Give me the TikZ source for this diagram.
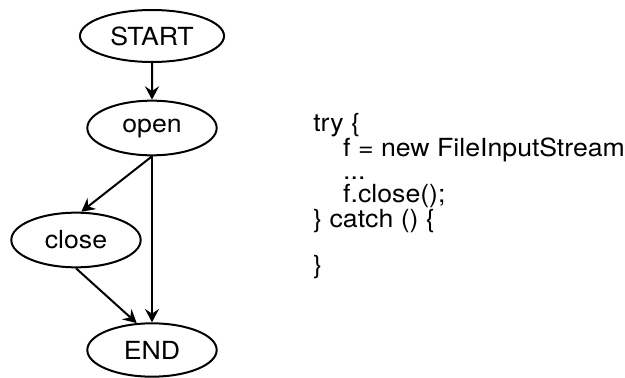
\documentclass[tikz,border=0pt]{standalone}
\usepackage{fontspec}
\setmainfont{TeX Gyre Heros}
\usepackage{tikz}
\usetikzlibrary{shapes,arrows,positioning,calc,arrows.meta}

\begin{document}
\begin{tikzpicture}[x=0.75pt, y=-0.75pt,
    widetext/.style={xscale=1.07, transform shape},
    oval/.style={draw, ellipse, line width=1.5pt, inner sep=0pt, widetext,
        minimum width=90.7pt, minimum height=41pt,
        font=\fontsize{18.7pt}{20pt}\selectfont},
    flow/.style={line width=1.5pt, -{Stealth[length=10pt, width=10.5pt, inset=3.5pt]}}]
    \useasboundingbox (0,0) rectangle (625,378);

    % Control flow graph
    \node[oval, minimum width=101pt, minimum height=39pt] (start) at (152,36) {START};
    \node[oval] (open) at (152,128) {open};
    \node[oval] (close) at (76,240) {close};
    \node[oval, minimum height=40pt] (end) at (152,350) {END};

    \draw[flow] (start) -- (open);
    \draw[flow] (open.south) -- (close.80);
    \draw[flow] (open.south) -- (end.north);
    \draw[flow] (close.south) -- (end.118);

    % Source code
    \node[anchor=north west, inner sep=0pt, align=left, widetext,
        font=\fontsize{18.7pt}{17.3pt}\selectfont] (code) at (313,113)
        {try \{\\
         \hspace*{21pt}f = new FileInputStream\\
         \hspace*{21pt}...\\
         \hspace*{21pt}f.close();\\
         \} catch () \{\\
         \mbox{}\\
         \}};
\end{tikzpicture}
\end{document}
